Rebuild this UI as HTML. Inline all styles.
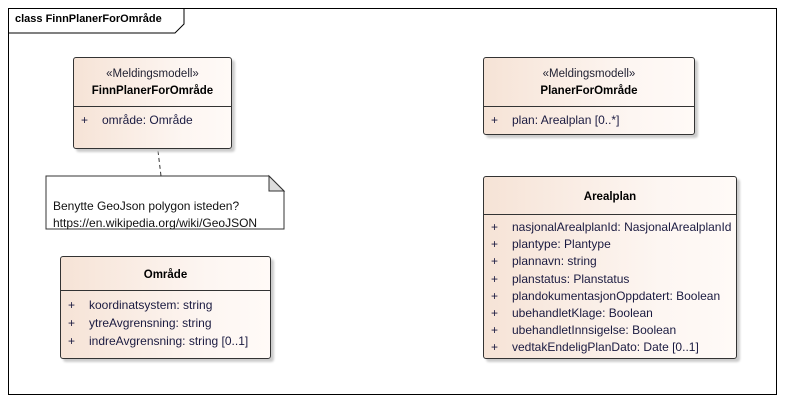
<!DOCTYPE html>
<html><head><meta charset="utf-8"><style>
body{margin:0;width:786px;height:403px;background:#fff;position:relative;overflow:hidden;font-family:"Liberation Sans",sans-serif;font-size:12px;color:#1a1a40}
.frame{position:absolute;left:8px;top:8px;width:769px;height:387px;border:1px solid #000;box-sizing:border-box}
.box{position:absolute;border:1px solid #333;border-radius:3px;background:linear-gradient(90deg,#f6e3d6,#fdf6f2 70%,#fffaf7);box-shadow:3px 3px 2px #ccc;box-sizing:border-box}
.hd{border-bottom:1px solid #333;text-align:center;color:#000;font-size:11.5px}
.hd b{font-weight:bold}
.st{color:#223}
.at{position:absolute;left:7px;white-space:nowrap;font-size:12px}
.at span{display:inline-block;width:21px}
.t{position:absolute;white-space:nowrap;color:#000}
</style></head><body>
<div class="frame"></div>
<svg style="position:absolute;left:0;top:0" width="786" height="403">
<polyline points="8,33 175,33 184,24 184,8" fill="none" stroke="#000" stroke-width="1"/>
<line x1="158" y1="151" x2="161" y2="176" stroke="#333" stroke-dasharray="4,3"/>
<polygon points="46,176 269,176 284,191 284,229 46,229" fill="#fff" stroke="#333"/>
<polygon points="269,176 269,191 284,191" fill="#ddd" stroke="#333"/>
</svg>
<div class="t" style="left:15px;top:13px;font-weight:bold;font-size:11px">class FinnPlanerForOmråde</div>
<div class="t" style="left:53px;top:198px;line-height:17px;color:#111;font-size:12px">Benytte GeoJson polygon isteden?<br>https://en.wikipedia.org/wiki/GeoJSON</div>

<div class="box" style="left:73px;top:57px;width:159px;height:92px">
 <div class="hd" style="height:49px;padding-top:8px;box-sizing:border-box;line-height:17px"><span class="st">«Meldingsmodell»</span><br><b>FinnPlanerForOmråde</b></div>
 <div class="at" style="top:55px"><span>+</span>område: Område</div>
</div>

<div class="box" style="left:483px;top:57px;width:212px;height:78px">
 <div class="hd" style="height:49px;padding-top:8px;box-sizing:border-box;line-height:17px"><span class="st">«Meldingsmodell»</span><br><b>PlanerForOmråde</b></div>
 <div class="at" style="top:55px"><span>+</span>plan: Arealplan [0..*]</div>
</div>

<div class="box" style="left:60px;top:256px;width:211px;height:103px">
 <div class="hd" style="height:33px;line-height:36px"><b>Område</b></div>
 <div class="at" style="top:41px"><span>+</span>koordinatsystem: string</div>
 <div class="at" style="top:59px"><span>+</span>ytreAvgrensning: string</div>
 <div class="at" style="top:77px"><span>+</span>indreAvgrensning: string [0..1]</div>
</div>

<div class="box" style="left:483px;top:176px;width:254px;height:183px">
 <div class="hd" style="height:37px;line-height:41px"><b>Arealplan</b></div>
 <div class="at" style="top:43px"><span>+</span>nasjonalArealplanId: NasjonalArealplanId</div>
 <div class="at" style="top:60px"><span>+</span>plantype: Plantype</div>
 <div class="at" style="top:77px"><span>+</span>plannavn: string</div>
 <div class="at" style="top:95px"><span>+</span>planstatus: Planstatus</div>
 <div class="at" style="top:112px"><span>+</span>plandokumentasjonOppdatert: Boolean</div>
 <div class="at" style="top:129px"><span>+</span>ubehandletKlage: Boolean</div>
 <div class="at" style="top:146px"><span>+</span>ubehandletInnsigelse: Boolean</div>
 <div class="at" style="top:163px"><span>+</span>vedtakEndeligPlanDato: Date [0..1]</div>
</div>
</body></html>
